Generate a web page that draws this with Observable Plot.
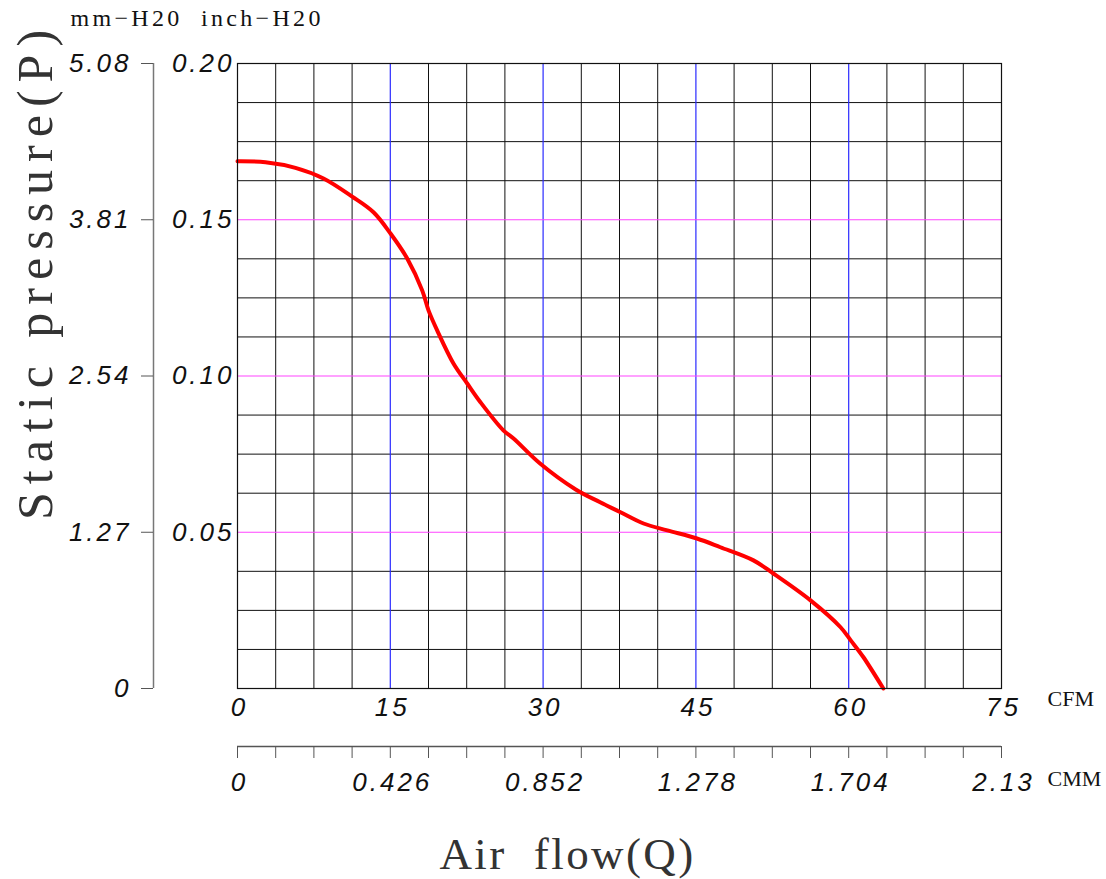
<!DOCTYPE html>
<html>
<head>
<meta charset="utf-8">
<script src="https://cdn.jsdelivr.net/npm/d3@7"></script>
<script src="https://cdn.jsdelivr.net/npm/@observablehq/plot@0.6"></script>
<style>
  html, body { margin: 0; padding: 0; background: #fff; }
  #chart svg { display: block; }
</style>
</head>
<body>
<div id="chart"></div>
<script>
// Fan curve: air flow (CFM) vs static pressure (inch-H2O)
const cfm = [0, 2.75, 5.69, 8.44, 11.26, 13.35, 15.02, 16.66, 18.13, 18.75, 19.6, 21.2, 22.55, 23.85, 26.1, 27.1, 29.7, 33.2, 35.6, 37.6, 39.86, 42.2, 45.1, 47.4, 50.65, 52.6, 56.25, 59.2, 60.2, 61.45, 63.4];
const pressure = [0.1687, 0.1684, 0.1666, 0.1632, 0.1574, 0.1524, 0.1456, 0.1376, 0.1274, 0.121, 0.1146, 0.104, 0.0976, 0.0916, 0.0826, 0.080, 0.072, 0.0637, 0.0596, 0.0564, 0.0528, 0.0506, 0.048, 0.0452, 0.041, 0.0368, 0.0282, 0.0196, 0.0154, 0.010, 0];

// Axis ticks and labels
const cfmTicks = [0, 15, 30, 45, 60, 75];
const cfmLabels = ["0", "15", "30", "45", "60", "75"];
const cmmLabels = ["0", "0.426", "0.852", "1.278", "1.704", "2.13"];
const inchTicks = [0.05, 0.10, 0.15, 0.20];
const inchLabels = ["0.05", "0.10", "0.15", "0.20"];
const mmTicks = [0, 0.05, 0.10, 0.15, 0.20];
const mmLabels = ["0", "1.27", "2.54", "3.81", "5.08"];
const gridX = [0, 3.75, 7.5, 11.25, 15, 18.75, 22.5, 26.25, 30, 33.75, 37.5, 41.25, 45, 48.75, 52.5, 56.25, 60, 63.75, 67.5, 71.25, 75];
const gridY = [0, 0.0125, 0.025, 0.0375, 0.05, 0.0625, 0.075, 0.0875, 0.10, 0.1125, 0.125, 0.1375, 0.15, 0.1625, 0.175, 0.1875, 0.20];
const blueX = [15, 30, 45, 60];
const magentaY = [0.05, 0.10, 0.15];

const curve = cfm.map((q, i) => ({q, p: pressure[i]}));
const fmt = (ticks, labels) => d => { const i = ticks.findIndex(t => Math.abs(t - d) < 1e-9); return i >= 0 ? labels[i] : ""; };
const notIn = list => d => !list.some(v => Math.abs(v - d) < 1e-9);

const numFont = "'Liberation Sans', sans-serif";
const serif = "'Liberation Serif', serif";
const NB = "\u00a0";

const chart = Plot.plot({
  width: 1106,
  height: 879,
  marginLeft: 237,
  marginRight: 105,
  marginTop: 63,
  marginBottom: 191,
  style: {fontFamily: numFont, background: "#fff", overflow: "visible"},
  x: {domain: [0, 75]},
  y: {domain: [0, 0.2]},
  marks: [
    // grid
    Plot.ruleX(gridX.filter(notIn(blueX)), {stroke: "#111", strokeWidth: 1}),
    Plot.ruleY(gridY.filter(notIn(magentaY)), {stroke: "#111", strokeWidth: 1}),
    Plot.ruleX(blueX, {stroke: "#2a2aff", strokeWidth: 1.2}),
    Plot.ruleY(magentaY, {stroke: "#ff44ff", strokeWidth: 1.2}),
    // curve
    Plot.line(curve, {x: "q", y: "p", stroke: "#ff0000", strokeWidth: 4, curve: "catmull-rom"}),
    // inch axis (labels only)
    Plot.axisY({anchor: "left", ticks: inchTicks, tickFormat: fmt(inchTicks, inchLabels), tickSize: 0, tickPadding: 3,
      fontSize: 26, fontStyle: "italic", fill: "#111", label: null}),
    // mm axis: offset line with left ticks
    Plot.ruleX([0], {dx: -84, stroke: "#777", strokeWidth: 1.5}),
    Plot.axisY({anchor: "left", ticks: mmTicks, tickFormat: fmt(mmTicks, mmLabels), tickSize: 12, tickPadding: 10, dx: -84,
      stroke: "#555", fontSize: 26, fontStyle: "italic", fill: "#111", label: null}),
    // CFM axis labels
    Plot.axisX({anchor: "bottom", ticks: cfmTicks, tickFormat: fmt(cfmTicks, cfmLabels), tickSize: 0, tickPadding: 9, dx: 2,
      fontSize: 26, fontStyle: "italic", fill: "#111", label: null}),
    // CMM axis
    Plot.ruleY([0], {dy: 58, stroke: "#555", strokeWidth: 1.5}),
    Plot.axisX({anchor: "bottom", ticks: gridX, tickFormat: () => "", tickSize: 12, dy: 58, stroke: "#555", label: null}),
    Plot.axisX({anchor: "bottom", ticks: cfmTicks, tickFormat: fmt(cfmTicks, cmmLabels), tickSize: 0, tickPadding: 0, dy: 84, dx: 2,
      fontSize: 26, fontStyle: "italic", fill: "#111", label: null}),
    // frame
    Plot.frame({stroke: "#111", strokeWidth: 1.2}),
    // unit labels
    Plot.text([`mm\u2212H20${NB}${NB}inch\u2212H20`], {frameAnchor: "top-left", dx: -167, dy: -45, textAnchor: "start", lineAnchor: "middle",
      fontSize: 24, fontFamily: serif, fill: "#111"}),
    Plot.text(["CFM"], {frameAnchor: "bottom-right", dx: 46, dy: 10, textAnchor: "start", lineAnchor: "middle",
      fontSize: 22, fontFamily: serif, fill: "#111"}),
    Plot.text(["CMM"], {frameAnchor: "bottom-right", dx: 46, dy: 90, textAnchor: "start", lineAnchor: "middle",
      fontSize: 22, fontFamily: serif, fill: "#111"}),
    // axis titles
    Plot.text([`Air${NB}${NB}flow(Q)`], {frameAnchor: "bottom", dx: -52, dy: 166, textAnchor: "middle", lineAnchor: "middle",
      fontSize: 45, fontFamily: serif, fill: "#333"}),
    Plot.text(["Static pressure(P)"], {frameAnchor: "left", dx: -202, dy: -105, rotate: -90, textAnchor: "middle", lineAnchor: "middle",
      fontSize: 50, fontFamily: serif, fill: "#333"})
  ]
});

// letter spacing to mimic the wide plotter font
const svg = d3.select(chart);
svg.selectAll('g[aria-label$="tick label"] text').style("letter-spacing", "3px");
const spacing = new Map([
  [`mm\u2212H20${NB}${NB}inch\u2212H20`, "3.3px"],
  [`Air${NB}${NB}flow(Q)`, "2.4px"],
  ["Static pressure(P)", "8px"]
]);
svg.selectAll("text").each(function() {
  const s = spacing.get(this.textContent);
  if (s) this.style.letterSpacing = s;
});
document.getElementById("chart").appendChild(chart);
</script>
</body>
</html>
